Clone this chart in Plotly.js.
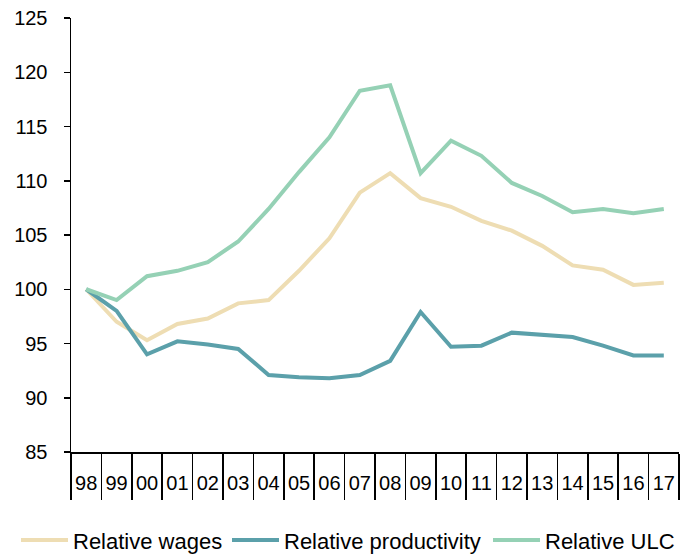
<!DOCTYPE html>
<html>
<head>
<meta charset="utf-8">
<script src="https://cdn.plot.ly/plotly-3.0.1.min.js"></script>
<style>html,body{margin:0;padding:0;background:#fff;}#chart{width:681px;height:557px;}</style>
</head>
<body>
<div id="chart"></div>
<script>
const years = ["98","99","00","01","02","03","04","05","06","07","08","09","10","11","12","13","14","15","16","17"];
const relativeWages = [100.0, 97.0, 95.3, 96.8, 97.3, 98.7, 99.0, 101.7, 104.7, 108.9, 110.7, 108.4, 107.6, 106.3, 105.4, 104.0, 102.2, 101.8, 100.4, 100.6];
const relativeProductivity = [100.0, 98.0, 94.0, 95.2, 94.9, 94.5, 92.1, 91.9, 91.8, 92.1, 93.4, 97.9, 94.7, 94.8, 96.0, 95.8, 95.6, 94.8, 93.9, 93.9];
const relativeULC = [100.0, 99.0, 101.2, 101.7, 102.5, 104.4, 107.4, 110.8, 114.0, 118.3, 118.8, 110.7, 113.7, 112.3, 109.8, 108.6, 107.1, 107.4, 107.0, 107.4];

const font = {family: "Liberation Sans, Arial, sans-serif", size: 20, color: "#000"};
const legendFont = {family: "Liberation Sans, Arial, sans-serif", size: 22, color: "#000"};

const traces = [
  {x: years, y: relativeWages, name: "Relative wages", type: "scatter", mode: "lines",
   line: {color: "#EEDDB3", width: 4}, legend: "legend"},
  {x: years, y: relativeProductivity, name: "Relative productivity", type: "scatter", mode: "lines",
   line: {color: "#5BA0AA", width: 4}, legend: "legend2"},
  {x: years, y: relativeULC, name: "Relative ULC", type: "scatter", mode: "lines",
   line: {color: "#95D1B5", width: 4}, legend: "legend3"}
];

function leg(px) {
  return {orientation: "h", xref: "container", yref: "container", x: px / 681, xanchor: "left",
          y: 0.03, yanchor: "middle", font: legendFont, itemwidth: 47, bgcolor: "rgba(0,0,0,0)"};
}

const layout = {
  width: 681, height: 557,
  margin: {l: 71, r: 2, t: 18, b: 105},
  paper_bgcolor: "#fff", plot_bgcolor: "#fff",
  font: font,
  showlegend: true,
  legend: leg(16),
  legend2: leg(227),
  legend3: leg(488),
  xaxis: {
    type: "category", range: [-0.5, 19.5],
    showline: true, linecolor: "#000", linewidth: 1.5,
    ticks: "outside", tickson: "boundaries", ticklen: 46, tickcolor: "#000", tickwidth: 1.5,
    tickangle: 0, ticklabelstandoff: 12,
    showgrid: false, zeroline: false, tickfont: font
  },
  yaxis: {
    range: [85, 125], dtick: 5, tick0: 85,
    showline: true, linecolor: "#000", linewidth: 1.5,
    ticks: "outside", ticklen: 6, tickcolor: "#000", tickwidth: 1.5,
    ticklabelstandoff: 12,
    showgrid: false, zeroline: false, tickfont: font
  },
  shapes: [
    {type: "line", xref: "x", yref: "paper", x0: 19.5, x1: 19.5, y0: 0, y1: -46 / (557 - 18 - 105),
     line: {color: "#000", width: 1.5}}
  ]
};

Plotly.newPlot("chart", traces, layout, {displayModeBar: false, staticPlot: true});
</script>
</body>
</html>
